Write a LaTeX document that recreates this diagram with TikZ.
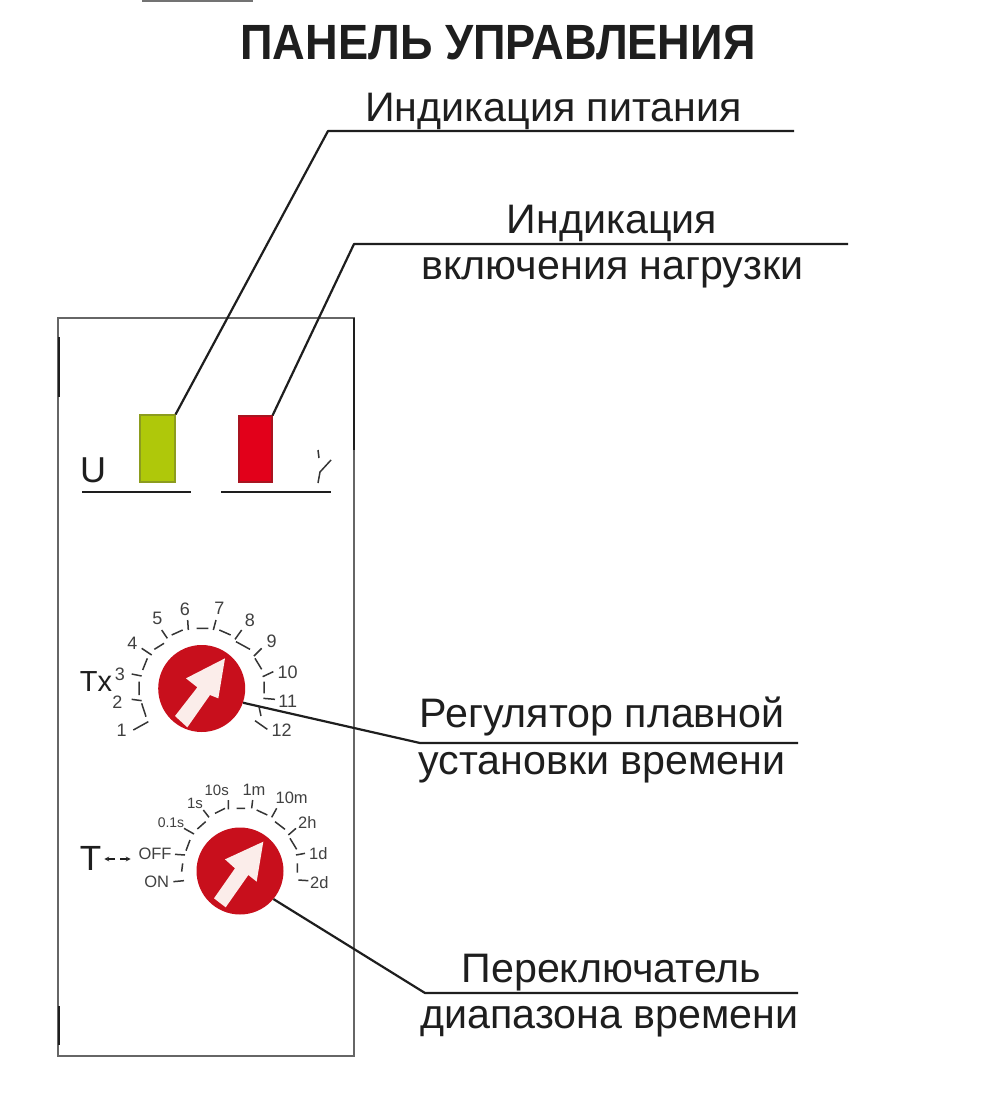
\documentclass[tikz,border=0pt]{standalone}
\usepackage{fontspec}
\setmainfont{Liberation Sans}
\definecolor{knobred}{HTML}{C80F1C}
\definecolor{ledgreen}{HTML}{AFC80A}
\definecolor{ledgreenb}{HTML}{8C9C1E}
\definecolor{ledred}{HTML}{E2001A}
\definecolor{ledredb}{HTML}{A81420}
\definecolor{ink}{HTML}{1E1E1E}
\definecolor{arrowpink}{HTML}{FBEDEA}
\tikzset{
  leader/.style={draw=ink,line width=2.2pt,line join=round},
  rulel/.style={draw=ink,line width=1.8pt},
  panel/.style={draw=black!60,line width=1.1pt},
  paneldark/.style={draw=ink,line width=2pt},
  lab/.style={font=\fontsize{41.2}{41}\selectfont,text=ink,anchor=base,inner sep=0pt},
  titlelab/.style={font=\fontsize{49.5}{50}\selectfont\bfseries,text=ink,anchor=base,inner sep=0pt},
  sym/.style={font=\fontsize{36}{36}\selectfont,text=ink,inner sep=0pt},
  scalenum/.style={font=\fontsize{18}{18}\selectfont,text=ink!85,inner sep=0pt},
  scalesm/.style={font=\fontsize{16.5}{17}\selectfont,text=ink!85,inner sep=0pt},
  tickm/.style={draw=ink!90,line width=1.5pt},
  knob/.style={circle,fill=knobred,draw=none,minimum size=87pt,inner sep=0pt},
  ledbox/.style={rectangle,line width=1.1pt,inner sep=0pt},
  knobarrow/.style={fill=arrowpink,draw=none}
}
\begin{document}
\begin{tikzpicture}[x=1pt,y=-1pt]
\useasboundingbox (0,0) rectangle (1000,1099);
\fill[white] (0,0) rectangle (1000,1099);
% top fragment
\fill[black!55] (142,0) rectangle (253,2);
% panel
\draw[panel] (58,318) rectangle (354,1056);
\draw[paneldark] (58.5,337) -- (58.5,397);
\draw[paneldark] (354,318) -- (354,450);
\draw[paneldark] (58.5,1006) -- (58.5,1045);
% title
\node[titlelab] (title) at (498,60) {\scalebox{0.913}[1]{ПАНЕЛЬ УПРАВЛЕНИЯ}};
% indicators
\node[ledbox,fill=ledgreen,draw=ledgreenb,minimum width=35pt,minimum height=67pt] (green) at (157.5,448.5) {};
\node[ledbox,fill=ledred,draw=ledredb,minimum width=33pt,minimum height=66pt] (red) at (255.5,449) {};
\node[sym,anchor=base] (u) at (93,482) {U};
\draw[rulel] (82,492) -- (191,492);
\draw[rulel] (221,492) -- (331,492);
\draw[tickm] (318,450) -- (319,458) (331,460) -- (320,472) -- (318,483);
% knobs
\node[knob] (knob1) at (201.7,688.5) {};
\node[knob] (knob2) at (240,871) {};
% labels
\node[lab] (l1) at (553.5,121.5) {Индикация питания};
\node[lab] (l2) at (612,233.5) {Индикация};
\node[lab] (l3) at (612.5,279.5) {включения нагрузки};
\node[lab] (l4) at (602,727) {Регулятор плавной};
\node[lab] (l5) at (602,774) {установки времени};
\node[lab] (l6) at (611.5,982) {Переключатель};
\node[lab] (l7) at (609.5,1028) {диапазона времени};
% leaders
\coordinate (p1a) at (328,131); \coordinate (p1b) at (794,131);
\coordinate (p2a) at (354,244); \coordinate (p2b) at (848,244);
\coordinate (p3a) at (420,743); \coordinate (p3b) at (798,743);
\coordinate (p4a) at (425,993); \coordinate (p4b) at (798,993);
\draw[leader] (green.north east) -- (p1a) -- (p1b);
\draw[leader] (red.north east) -- (p2a) -- (p2b);
\draw[leader] (knob1.-19) -- (p3a) -- (p3b);
\draw[leader] (knob2.-40) -- (p4a) -- (p4b);
% dial 1 (coordinates in 3x crop units)
\begin{scope}[shift={(60,580)},x=0.33333pt,y=-0.33333pt]
\fill[knobarrow] (495,235) -- (378,295) -- (412,322) -- (345,408) -- (382,442) -- (450,345) -- (475,355) -- cycle;
\draw[tickm] (220,450)--(265,425) (258,410)--(245,370) (215,358)--(245,362) (237,345)--(237,305)
 (215,282)--(245,288) (248,270)--(262,235) (245,205)--(275,225) (283,208)--(312,190)
 (305,150)--(322,175) (335,165)--(368,150) (383,120)--(385,150) (410,145)--(445,145)
 (468,120)--(460,150) (478,150)--(512,165) (545,150)--(525,178) (528,185)--(570,208)
 (605,205)--(582,228) (585,235)--(605,268) (640,275)--(608,290) (612,305)--(612,340)
 (610,355)--(645,358) (597,380)--(603,408) (585,422)--(622,448);
\node[scalenum] (t1) at (185,452) {1};
\node[scalenum] (t2) at (172,368) {2};
\node[scalenum] (t3) at (180,282) {3};
\node[scalenum] (t4) at (217,190) {4};
\node[scalenum] (t5) at (292,115) {5};
\node[scalenum] (t6) at (375,88) {6};
\node[scalenum] (t7) at (478,85) {7};
\node[scalenum] (t8) at (570,120) {8};
\node[scalenum] (t9) at (635,183) {9};
\node[scalenum] (t10) at (683,278) {10};
\node[scalenum] (t11) at (683,365) {11};
\node[scalenum] (t12) at (665,452) {12};
\node[font=\fontsize{29}{29}\selectfont,text=ink,inner sep=0pt] (tx) at (108,306) {Tx};
\end{scope}
% dial 2
\begin{scope}[shift={(60,760)},x=0.33333pt,y=-0.33333pt]
\fill[knobarrow] (610,245) -- (495,298) -- (525,325) -- (462,415) -- (497,442) -- (565,345) -- (590,365) -- cycle;
\draw[tickm] (340,365)--(372,362) (365,335)--(368,310) (345,283)--(375,285) (378,272)--(390,240)
 (372,205)--(402,222) (412,207)--(437,185) (430,150)--(447,172) (465,160)--(495,145)
 (505,120)--(505,148) (530,145)--(555,145) (578,120)--(575,145) (590,150)--(622,165)
 (650,145)--(635,172) (645,185)--(675,208) (708,205)--(685,225) (690,235)--(710,268)
 (708,285)--(735,280) (712,310)--(712,338) (715,360)--(745,362);
\node[scalesm] (s1) at (290,365) {ON};
\node[scalesm] (s2) at (285,280) {OFF};
\node[scalesm,font=\fontsize{14}{14}\selectfont] (s3) at (333,188) {0.1s};
\node[scalesm,font=\fontsize{15}{15}\selectfont] (s4) at (405,130) {1s};
\node[scalesm,font=\fontsize{15}{15}\selectfont] (s5) at (470,90) {10s};
\node[scalesm] (s6) at (582,90) {1m};
\node[scalesm] (s7) at (695,112) {10m};
\node[scalesm] (s8) at (742,187) {2h};
\node[scalesm] (s9) at (775,280) {1d};
\node[scalesm] (s10) at (778,367) {2d};
\node[font=\fontsize{35}{35}\selectfont,text=ink,inner sep=0pt] (tsym) at (92,295) {T};
\coordinate (da) at (133,297); \coordinate (db) at (212,297);
\coordinate (dm1) at (165,297); \coordinate (dm2) at (181,297);
\draw[-stealth,line width=1.2pt,ink] (dm1) -- (da);
\draw[-stealth,line width=1.2pt,ink] (dm2) -- (db);
\end{scope}
\end{tikzpicture}
\end{document}
